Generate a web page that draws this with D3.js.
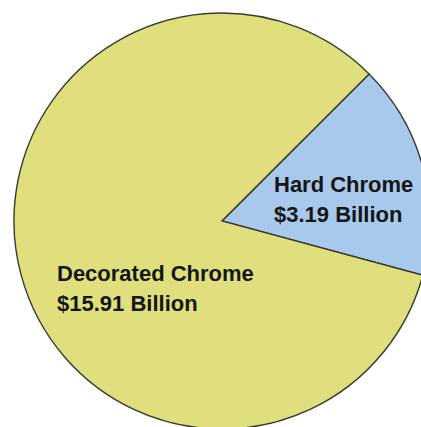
<!DOCTYPE html>
<html>
<head>
<meta charset="utf-8">
<script src="https://cdn.jsdelivr.net/npm/d3@7"></script>
<style>
  html, body { margin: 0; padding: 0; background: #fff; overflow: hidden; }
  svg { display: block; }
</style>
</head>
<body>
<svg id="chart" width="421" height="427"></svg>
<script>
// Chrome plating market by segment (US$ billions)
const segments = ["Hard Chrome", "Decorated Chrome"];
const values = [3.19, 15.91];
const valueLabels = ["$3.19 Billion", "$15.91 Billion"];
const colors = ["#a9c9ec", "#dfdf7d"];

const svg = d3.select("#chart");
const cx = 222, cy = 221, radius = 208;

const data = segments.map((s, i) => ({ name: s, value: values[i], label: valueLabels[i], color: colors[i] }));

// Hard Chrome wedge starts about 45° clockwise from 12 o'clock
const start = 45 * Math.PI / 180;
const pie = d3.pie()
  .value(d => d.value)
  .sort(null)
  .startAngle(start)
  .endAngle(start + 2 * Math.PI);

const arc = d3.arc().innerRadius(0).outerRadius(radius);

const g = svg.append("g").attr("transform", `translate(${cx},${cy})`);

g.selectAll("path")
  .data(pie(data))
  .join("path")
  .attr("d", arc)
  .attr("fill", d => d.data.color)
  .attr("stroke", "#3a3a30")
  .attr("stroke-width", 1.4)
  .attr("stroke-linejoin", "miter");

// Two-line labels inside each wedge
const labelPos = [
  { x: 274, y: 192 },
  { x: 57, y: 281 }
];

const labels = svg.append("g")
  .attr("font-family", "'Liberation Sans', Arial, sans-serif")
  .attr("font-weight", "bold")
  .attr("font-size", 22)
  .attr("fill", "#151515");

data.forEach((d, i) => {
  const t = labels.append("text")
    .attr("x", labelPos[i].x)
    .attr("y", labelPos[i].y);
  t.append("tspan").attr("x", labelPos[i].x).text(d.name);
  t.append("tspan").attr("x", labelPos[i].x).attr("dy", 30).text(d.label);
});
</script>
</body>
</html>
